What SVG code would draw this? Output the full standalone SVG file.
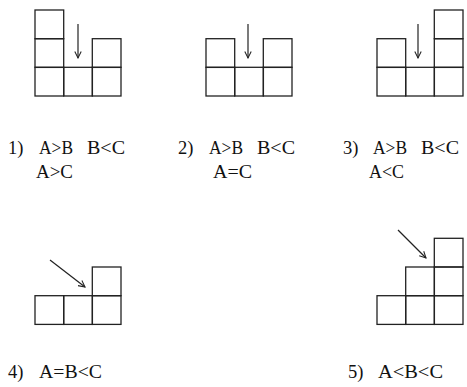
<svg xmlns="http://www.w3.org/2000/svg" width="467" height="387" viewBox="0 0 467 387">
<defs>
<style>
.c{fill:none;stroke:#222;stroke-width:1.3}
.a{fill:none;stroke:#222;stroke-width:1.2}
text{font-family:"Liberation Serif","Times New Roman",serif;font-size:18.5px;fill:#111}
</style>
<marker id="ah" viewBox="0 0 10 10" refX="9" refY="5" markerWidth="8" markerHeight="8" markerUnits="userSpaceOnUse" orient="auto">
<path d="M1,1 L9,5 L1,9" fill="none" stroke="#222" stroke-width="1.3"/>
</marker>
</defs>
<rect width="467" height="387" fill="#fff"/>
<g id="fig1">
<rect class="c" x="35" y="10" width="28.7" height="28.7"/>
<rect class="c" x="35" y="38.7" width="28.7" height="28.7"/>
<rect class="c" x="35" y="67.3" width="28.7" height="28.7"/>
<rect class="c" x="63.7" y="67.3" width="28.7" height="28.7"/>
<rect class="c" x="92.3" y="38.7" width="28.7" height="28.7"/>
<rect class="c" x="92.3" y="67.3" width="28.7" height="28.7"/>
<text x="8" y="154">1)</text>
<text x="39" y="154" textLength="34" lengthAdjust="spacingAndGlyphs">A&gt;B</text>
<text x="87" y="154" textLength="38" lengthAdjust="spacingAndGlyphs">B&lt;C</text>
<text x="36" y="178" textLength="37" lengthAdjust="spacingAndGlyphs">A&gt;C</text>
</g>
<g id="fig2">
<rect class="c" x="206" y="38.7" width="28.7" height="28.7"/>
<rect class="c" x="206" y="67.3" width="28.7" height="28.7"/>
<rect class="c" x="234.7" y="67.3" width="28.7" height="28.7"/>
<rect class="c" x="263.3" y="38.7" width="28.7" height="28.7"/>
<rect class="c" x="263.3" y="67.3" width="28.7" height="28.7"/>
<text x="178" y="154">2)</text>
<text x="209" y="154" textLength="34" lengthAdjust="spacingAndGlyphs">A&gt;B</text>
<text x="257" y="154" textLength="38" lengthAdjust="spacingAndGlyphs">B&lt;C</text>
<text x="213" y="178" textLength="39" lengthAdjust="spacingAndGlyphs">A=C</text>
</g>
<g id="fig3">
<rect class="c" x="377" y="38.7" width="28.7" height="28.7"/>
<rect class="c" x="377" y="67.3" width="28.7" height="28.7"/>
<rect class="c" x="405.7" y="67.3" width="28.7" height="28.7"/>
<rect class="c" x="434.3" y="10" width="28.7" height="28.7"/>
<rect class="c" x="434.3" y="38.7" width="28.7" height="28.7"/>
<rect class="c" x="434.3" y="67.3" width="28.7" height="28.7"/>
<text x="343" y="154">3)</text>
<text x="373" y="154" textLength="34" lengthAdjust="spacingAndGlyphs">A&gt;B</text>
<text x="421" y="154" textLength="38" lengthAdjust="spacingAndGlyphs">B&lt;C</text>
<text x="369" y="178" textLength="35" lengthAdjust="spacingAndGlyphs">A&lt;C</text>
</g>
<g id="fig4">
<rect class="c" x="35" y="295.7" width="28.7" height="28.7"/>
<rect class="c" x="63.7" y="295.7" width="28.7" height="28.7"/>
<rect class="c" x="92.3" y="267" width="28.7" height="28.7"/>
<rect class="c" x="92.3" y="295.7" width="28.7" height="28.7"/>
<text x="8" y="378">4)</text>
<text x="39" y="378" textLength="63" lengthAdjust="spacingAndGlyphs">A=B&lt;C</text>
</g>
<g id="fig5">
<rect class="c" x="377" y="295.7" width="28.7" height="28.7"/>
<rect class="c" x="405.7" y="267" width="28.7" height="28.7"/>
<rect class="c" x="405.7" y="295.7" width="28.7" height="28.7"/>
<rect class="c" x="434.3" y="238.3" width="28.7" height="28.7"/>
<rect class="c" x="434.3" y="267" width="28.7" height="28.7"/>
<rect class="c" x="434.3" y="295.7" width="28.7" height="28.7"/>
<text x="348" y="378">5)</text>
<text x="378" y="378" textLength="65" lengthAdjust="spacingAndGlyphs">A&lt;B&lt;C</text>
</g>
<g id="connectors">
<line class="a" x1="78" y1="24" x2="78" y2="58" marker-end="url(#ah)"/>
<line class="a" x1="248" y1="24" x2="248" y2="58" marker-end="url(#ah)"/>
<line class="a" x1="418" y1="24" x2="418" y2="58" marker-end="url(#ah)"/>
<line class="a" x1="50" y1="260" x2="85" y2="287" marker-end="url(#ah)"/>
<line class="a" x1="398" y1="230" x2="426" y2="258" marker-end="url(#ah)"/>
</g>
</svg>
